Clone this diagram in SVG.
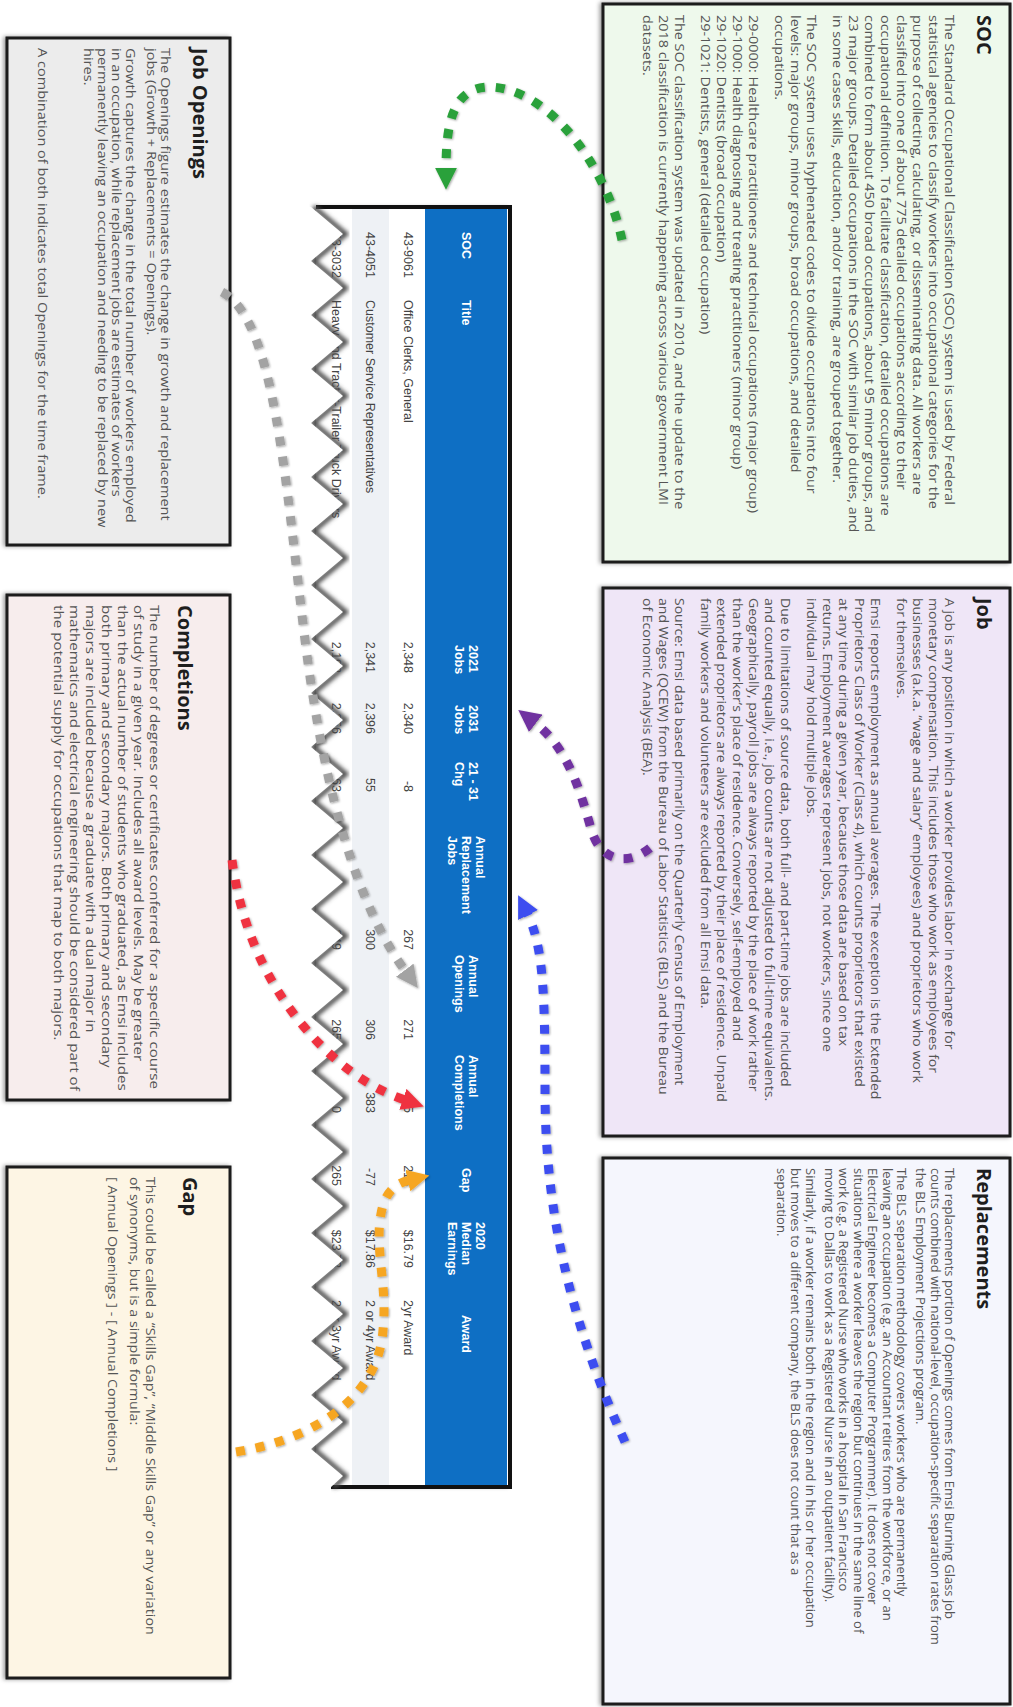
<svg xmlns="http://www.w3.org/2000/svg" width="1013" height="1707" viewBox="0 0 1013 1707">
<defs>
<style>
.box{stroke:#1c1c1c;stroke-width:3}
.h{font-family:"Open Sans","Liberation Sans",sans-serif;font-weight:bold;font-size:20px;fill:#1e1e1e}
.b{font-family:"Open Sans","Liberation Sans",sans-serif;font-size:13px;fill:#555}
.th{font-family:"Liberation Sans",Arial,sans-serif;font-weight:bold;font-size:12.5px;fill:#fff}
.td{font-family:"Liberation Sans",Arial,sans-serif;font-size:12.5px;fill:#444}
.e{text-anchor:end}
.con{fill:none;stroke-width:9;stroke-dasharray:9 11;filter:url(#ds)}
</style>
<filter id="ds" x="-20%" y="-20%" width="140%" height="140%"><feDropShadow dx="1" dy="1" stdDeviation="1" flood-opacity="0.35"/></filter>
<filter id="bs" x="-5%" y="-5%" width="110%" height="110%"><feDropShadow dx="0" dy="2" stdDeviation="2" flood-opacity="0.4"/></filter>
<filter id="blur" x="-10%" y="-10%" width="120%" height="120%"><feGaussianBlur stdDeviation="2"/></filter>
<marker id="m-green" viewBox="0 0 10 10" refX="1" refY="5" markerWidth="22" markerHeight="22" markerUnits="userSpaceOnUse" orient="auto"><path d="M0,0 L10,5 L0,10 z" fill="#2aa13a"/></marker>
<marker id="m-purple" viewBox="0 0 10 10" refX="1" refY="5" markerWidth="22" markerHeight="22" markerUnits="userSpaceOnUse" orient="auto"><path d="M0,0 L10,5 L0,10 z" fill="#7030a0"/></marker>
<marker id="m-blue" viewBox="0 0 10 10" refX="1" refY="5" markerWidth="22" markerHeight="22" markerUnits="userSpaceOnUse" orient="auto"><path d="M0,0 L10,5 L0,10 z" fill="#3c4ef0"/></marker>
<marker id="m-gray" viewBox="0 0 10 10" refX="1" refY="5" markerWidth="22" markerHeight="22" markerUnits="userSpaceOnUse" orient="auto"><path d="M0,0 L10,5 L0,10 z" fill="#a3a3a3"/></marker>
<marker id="m-red" viewBox="0 0 10 10" refX="1" refY="5" markerWidth="22" markerHeight="22" markerUnits="userSpaceOnUse" orient="auto"><path d="M0,0 L10,5 L0,10 z" fill="#ef3340"/></marker>
<marker id="m-orange" viewBox="0 0 10 10" refX="1" refY="5" markerWidth="22" markerHeight="22" markerUnits="userSpaceOnUse" orient="auto"><path d="M0,0 L10,5 L0,10 z" fill="#f6a623"/></marker>
</defs>
<rect width="1013" height="1707" fill="#fff"/>
<g id="canvas" transform="translate(1013 0) rotate(90)">
  <g id="node-soc">
    <rect class="box" x="4" y="3" width="558" height="407" fill="#eef9ec" filter="url(#bs)"/>
    <text class="h" x="15" y="36">SOC</text>
    <g transform="translate(15 0) scale(1.11 1) translate(-15 0)">
    <text class="b" x="15" y="68">The Standard Occupational Classification (SOC) system is used by Federal</text>
    <text class="b" x="15" y="84">statistical agencies to classify workers into occupational categories for the</text>
    <text class="b" x="15" y="100">purpose of collecting, calculating, or disseminating data. All workers are</text>
    <text class="b" x="15" y="116">classified into one of about 775 detailed occupations according to their</text>
    <text class="b" x="15" y="132">occupational definition. To facilitate classification, detailed occupations are</text>
    <text class="b" x="15" y="148">combined to form about 450 broad occupations, about 95 minor groups, and</text>
    <text class="b" x="15" y="164">23 major groups. Detailed occupations in the SOC with similar job duties, and</text>
    <text class="b" x="15" y="180">in some cases skills, education, and/or training, are grouped together.</text>
    <text class="b" x="15" y="206">The SOC system uses hyphenated codes to divide occupations into four</text>
    <text class="b" x="15" y="222">levels: major groups, minor groups, broad occupations, and detailed</text>
    <text class="b" x="15" y="238">occupations.</text>
    <text class="b" x="15" y="264">29-0000: Healthcare practitioners and technical occupations (major group)</text>
    <text class="b" x="15" y="280">29-1000: Health diagnosing and treating practitioners (minor group)</text>
    <text class="b" x="15" y="296">29-1020: Dentists (broad occupation)</text>
    <text class="b" x="15" y="312">29-1021: Dentists, general (detailed occupation)</text>
    <text class="b" x="15" y="338">The SOC classification system was updated in 2010, and the update to the</text>
    <text class="b" x="15" y="354">2018 classification is currently happening across various government LMI</text>
    <text class="b" x="15" y="370">datasets.</text>
    </g>
  </g>
  <g id="node-job">
    <rect class="box" x="588" y="3" width="548" height="407" fill="#efe6f7" filter="url(#bs)"/>
    <text class="h" x="598" y="36">Job</text>
    <g transform="translate(598 0) scale(1.08 1) translate(-598 0)">
    <text class="b" x="598" y="68">A job is any position in which a worker provides labor in exchange for</text>
    <text class="b" x="598" y="84">monetary compensation. This includes those who work as employees for</text>
    <text class="b" x="598" y="100">businesses (a.k.a. “wage and salary” employees) and proprietors who work</text>
    <text class="b" x="598" y="116">for themselves.</text>
    <text class="b" x="598" y="142">Emsi reports employment as annual averages. The exception is the Extended</text>
    <text class="b" x="598" y="158">Proprietors Class of Worker (Class 4), which counts proprietors that existed</text>
    <text class="b" x="598" y="174">at any time during a given year, because those data are based on tax</text>
    <text class="b" x="598" y="190">returns. Employment averages represent jobs, not workers, since one</text>
    <text class="b" x="598" y="206">individual may hold multiple jobs.</text>
    <text class="b" x="598" y="232">Due to limitations of source data, both full- and part-time jobs are included</text>
    <text class="b" x="598" y="248">and counted equally, i.e., job counts are not adjusted to full-time equivalents.</text>
    <text class="b" x="598" y="264">Geographically, payroll jobs are always reported by the place of work rather</text>
    <text class="b" x="598" y="280">than the worker’s place of residence. Conversely, self-employed and</text>
    <text class="b" x="598" y="296">extended proprietors are always reported by their place of residence. Unpaid</text>
    <text class="b" x="598" y="312">family workers and volunteers are excluded from all Emsi data.</text>
    <text class="b" x="598" y="338">Source: Emsi data based primarily on the Quarterly Census of Employment</text>
    <text class="b" x="598" y="354">and Wages (QCEW) from the Bureau of Labor Statistics (BLS) and the Bureau</text>
    <text class="b" x="598" y="370">of Economic Analysis (BEA).</text>
    </g>
  </g>
  <g id="node-replacements">
    <rect class="box" x="1158" y="3" width="546" height="407" fill="#f5f6fd" filter="url(#bs)"/>
    <text class="h" x="1168" y="36">Replacements</text>
    <text class="b" x="1168" y="68">The replacements portion of Openings comes from Emsi Burning Glass job</text>
    <text class="b" x="1168" y="82.5">counts combined with national-level, occupation-specific separation rates from</text>
    <text class="b" x="1168" y="97">the BLS Employment Projections program.</text>
    <text class="b" x="1168" y="116">The BLS separation methodology covers workers who are permanently</text>
    <text class="b" x="1168" y="130.5">leaving an occupation (e.g. an Accountant retires from the workforce, or an</text>
    <text class="b" x="1168" y="145">Electrical Engineer becomes a Computer Programmer). It does not cover</text>
    <text class="b" x="1168" y="159.5">situations where a worker leaves the region but continues in the same line of</text>
    <text class="b" x="1168" y="174">work (e.g. a Registered Nurse who works in a hospital in San Francisco</text>
    <text class="b" x="1168" y="188.5">moving to Dallas to work as a Registered Nurse in an outpatient facility).</text>
    <text class="b" x="1168" y="207.5">Similarly, if a worker remains both in the region and in his or her occupation</text>
    <text class="b" x="1168" y="222">but moves to a different company, the BLS does not count that as a</text>
    <text class="b" x="1168" y="236.5">separation.</text>
  </g>
  <g id="node-job-openings">
    <rect class="box" x="38" y="783" width="507" height="223" fill="#ececec" filter="url(#bs)"/>
    <text class="h" x="48" y="820">Job Openings</text>
    <g transform="translate(48 0) scale(1.12 1) translate(-48 0)">
    <text class="b" x="48" y="852">The Openings figure estimates the change in growth and replacement</text>
    <text class="b" x="48" y="866">jobs (Growth + Replacements = Openings).</text>
    <text class="b" x="48" y="887">Growth captures the change in the total number of workers employed</text>
    <text class="b" x="48" y="901">in an occupation, while replacement jobs are estimates of workers</text>
    <text class="b" x="48" y="915">permanently leaving an occupation and needing to be replaced by new</text>
    <text class="b" x="48" y="929">hires.</text>
    <text class="b" x="48" y="975">A combination of both indicates total Openings for the time frame.</text>
    </g>
  </g>
  <g id="node-completions">
    <rect class="box" x="595" y="783" width="505" height="223" fill="#f7eded" filter="url(#bs)"/>
    <text class="h" x="605" y="835">Completions</text>
    <g transform="translate(605 0) scale(1.17 1) translate(-605 0)">
    <text class="b" x="605" y="863">The number of degrees or certificates conferred for a specific course</text>
    <text class="b" x="605" y="879">of study in a given year. Includes all award levels. May be greater</text>
    <text class="b" x="605" y="895">than the actual number of students who graduated, as Emsi includes</text>
    <text class="b" x="605" y="911">both primary and secondary majors. Both primary and secondary</text>
    <text class="b" x="605" y="927">majors are included because a graduate with a dual major in</text>
    <text class="b" x="605" y="943">mathematics and electrical engineering should be considered part of</text>
    <text class="b" x="605" y="959">the potential supply for occupations that map to both majors.</text>
    </g>
  </g>
  <g id="node-gap">
    <rect class="box" x="1167" y="783" width="511" height="223" fill="#fdf5e4" filter="url(#bs)"/>
    <text class="h" x="1177" y="830">Gap</text>
    <g transform="translate(1177 0) scale(1.1 1) translate(-1177 0)">
    <text class="b" x="1177" y="867">This could be called a “Skills Gap”, “Middle Skills Gap” or any variation</text>
    <text class="b" x="1177" y="883">of synonyms, but is a simple formula:</text>
    <text class="b" x="1177" y="905">[ Annual Openings ] - [ Annual Completions ]</text>
    </g>
  </g>
  <g id="node-table">
    <rect x="207" y="503" width="1280" height="194" fill="#fff" filter="url(#bs)"/>
    <rect x="209" y="506" width="1276" height="82" fill="#0e6fc4"/>
    <rect x="209" y="624" width="1276" height="37" fill="#eef1f5"/>
    <path d="M207 697 V503 H1487 V697" fill="none" stroke="#111" stroke-width="4"/>
    <text class="th" x="232" y="551">SOC</text>
    <text class="th" x="300" y="551">Title</text>
    <text class="th" x="645" y="544">2021</text><text class="th" x="645" y="558">Jobs</text>
    <text class="th" x="705" y="544">2031</text><text class="th" x="705" y="558">Jobs</text>
    <text class="th" x="762" y="544">21 - 31</text><text class="th" x="762" y="558">Chg</text>
    <text class="th" x="836" y="537">Annual</text><text class="th" x="836" y="551">Replacement</text><text class="th" x="836" y="565">Jobs</text>
    <text class="th" x="955" y="544">Annual</text><text class="th" x="955" y="558">Openings</text>
    <text class="th" x="1055" y="544">Annual</text><text class="th" x="1055" y="558">Completions</text>
    <text class="th" x="1168" y="551">Gap</text>
    <text class="th" x="1222" y="537">2020</text><text class="th" x="1222" y="551">Median</text><text class="th" x="1222" y="565">Earnings</text>
    <text class="th" x="1315" y="551">Award</text>
    <text class="td" x="232" y="609">43-9061</text>
    <text class="td" x="300" y="609">Office Clerks, General</text>
    <text class="td e" x="673" y="609">2,348</text>
    <text class="td e" x="734" y="609">2,340</text>
    <text class="td e" x="792" y="609">-8</text>
    <text class="td e" x="950" y="609">267</text>
    <text class="td e" x="1040" y="609">271</text>
    <text class="td e" x="1113" y="609">55</text>
    <text class="td e" x="1186" y="609">216</text>
    <text class="td e" x="1268" y="609">$16.79</text>
    <text class="td" x="1300" y="609">2yr Award</text>
    <text class="td" x="232" y="647">43-4051</text>
    <text class="td" x="300" y="647">Customer Service Representatives</text>
    <text class="td e" x="673" y="647">2,341</text>
    <text class="td e" x="734" y="647">2,396</text>
    <text class="td e" x="792" y="647">55</text>
    <text class="td e" x="950" y="647">300</text>
    <text class="td e" x="1040" y="647">306</text>
    <text class="td e" x="1113" y="647">383</text>
    <text class="td e" x="1186" y="647">-77</text>
    <text class="td e" x="1268" y="647">$17.86</text>
    <text class="td" x="1300" y="647">2 or 4yr Award</text>
    <text class="td" x="232" y="681">53-3032</text>
    <text class="td" x="300" y="681">Heavy and Tractor-Trailer Truck Drivers</text>
    <text class="td e" x="673" y="681">2,193</text>
    <text class="td e" x="734" y="681">2,356</text>
    <text class="td e" x="792" y="681">163</text>
    <text class="td e" x="950" y="681">249</text>
    <text class="td e" x="1040" y="681">265</text>
    <text class="td e" x="1113" y="681">0</text>
    <text class="td e" x="1186" y="681">265</text>
    <text class="td e" x="1268" y="681">$23.73</text>
    <text class="td" x="1300" y="681">2 or 3yr Award</text>
    <polyline points="207,702 234,670 261,702 288,670 315,702 342,670 369,702 396,670 423,702 450,670 477,702 504,670 531,702 558,670 585,702 612,670 639,702 666,670 693,702 720,670 747,702 774,670 801,702 828,670 855,702 882,670 909,702 936,670 963,702 990,670 1017,702 1044,670 1071,702 1098,670 1125,702 1152,670 1179,702 1206,670 1233,702 1260,670 1287,702 1314,670 1341,702 1368,670 1395,702 1422,670 1449,702 1476,670 1487,682" fill="none" stroke="#4a4a4a" stroke-width="5" transform="translate(0 -2.5)" filter="url(#blur)"/>
    <polygon points="200,730 207,702 234,670 261,702 288,670 315,702 342,670 369,702 396,670 423,702 450,670 477,702 504,670 531,702 558,670 585,702 612,670 639,702 666,670 693,702 720,670 747,702 774,670 801,702 828,670 855,702 882,670 909,702 936,670 963,702 990,670 1017,702 1044,670 1071,702 1098,670 1125,702 1152,670 1179,702 1206,670 1233,702 1260,670 1287,702 1314,670 1341,702 1368,670 1395,702 1422,670 1449,702 1476,670 1487,682 1495,682 1495,730" fill="#fff"/>
  </g>
</g>
<g id="connectors">
  <path class="con" stroke="#2aa13a" marker-end="url(#m-green)" d="M622 240 C605 160 545 88 490 87 C452 87 446 125 446 170"/>
  <path class="con" stroke="#7030a0" marker-end="url(#m-purple)" d="M650 848 C628 866 602 862 592 832 C580 790 568 748 534 722"/>
  <path class="con" stroke="#3c4ef0" marker-end="url(#m-blue)" d="M625 1442 C565 1310 545 1200 545 1090 C545 990 543 945 527 913"/>
  <path class="con" stroke="#a3a3a3" marker-end="url(#m-gray)" d="M222 292 C275 320 285 480 305 640 C325 800 360 910 406 972"/>
  <path class="con" stroke="#ef3340" marker-end="url(#m-red)" d="M232 860 C240 920 262 975 300 1022 C335 1065 370 1088 405 1100"/>
  <path class="con" stroke="#f6a623" marker-end="url(#m-orange)" d="M236 1452 C310 1440 378 1400 383 1330 C388 1280 372 1245 383 1205 C388 1190 397 1183 410 1180"/>
</g>
</svg>
